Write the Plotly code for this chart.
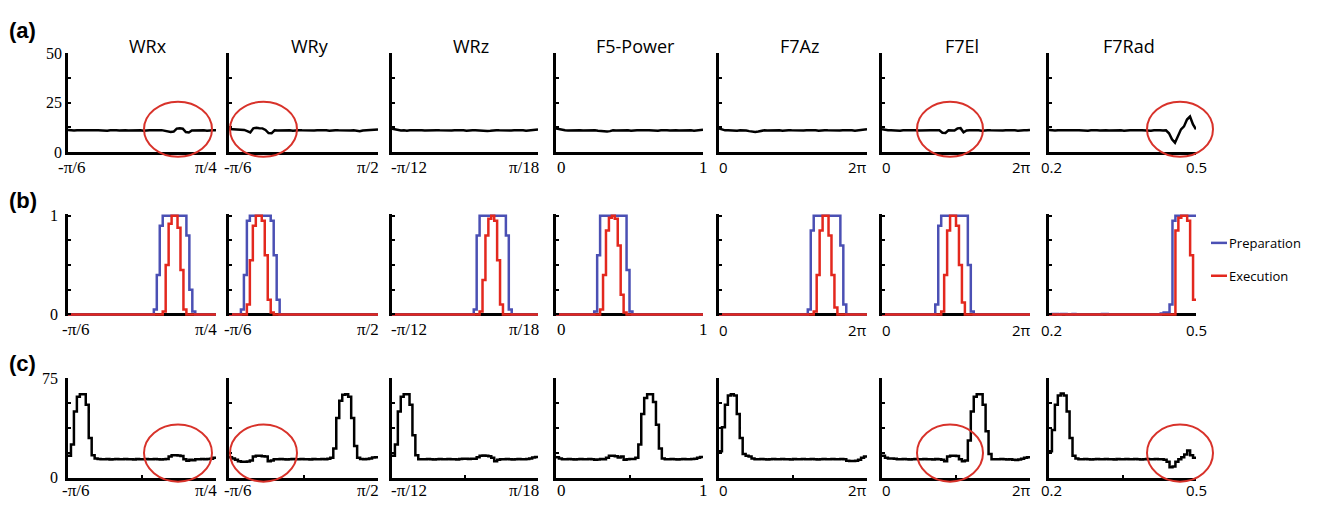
import numpy as np
import plotly.graph_objects as go

W, H = 1322, 509

# ---------------- data ----------------
panels = ["WRx", "WRy", "WRz", "F5-Power", "F7Az", "F7El", "F7Rad"]
x_min = [-np.pi / 6, -np.pi / 6, -np.pi / 12, 0.0, 0.0, 0.0, 0.2]
x_max = [np.pi / 4, np.pi / 2, np.pi / 18, 1.0, 2 * np.pi, 2 * np.pi, 0.5]
x_min_label = ["-π/6", "-π/6", "-π/12", "0", "0", "0", "0.2"]
x_max_label = ["π/4", "π/2", "π/18", "1", "2π", "2π", "0.5"]
row_labels = ["(a)", "(b)", "(c)"]
series_names = ["Preparation", "Execution"]

# row (a): firing rate, 50 bins per panel
a_wrx = [11.2, 11.0, 10.9, 11.1, 11.0, 10.8, 11.0, 11.1, 10.9, 11.0,
         11.1, 10.9, 11.0, 10.8, 11.0, 11.1, 11.0, 10.9, 11.1, 11.0,
         10.9, 11.0, 11.1, 10.9, 11.0, 10.8, 11.0, 11.1, 11.0, 10.9,
         11.0, 11.1, 10.8, 10.3, 10.2, 10.4, 11.9, 12.1, 11.8, 10.1,
         9.9, 10.9, 11.0, 11.1, 10.9, 11.0, 10.8, 11.0, 11.1, 11.0]
a_wry = [11.7, 11.6, 11.4, 11.5, 11.3, 11.2, 10.6, 9.9, 12.0, 12.3,
         12.1, 12.0, 11.2, 9.6, 9.5, 11.0, 10.9, 11.0, 11.1, 10.9,
         11.0, 10.8, 11.0, 11.1, 11.0, 10.9, 11.1, 11.0, 10.9, 11.0,
         11.1, 10.9, 11.0, 10.8, 11.0, 11.1, 11.0, 10.9, 11.1, 11.0,
         10.9, 11.0, 10.6, 10.5, 10.9, 11.0, 11.1, 10.9, 11.2, 11.4]
a_wrz = [11.8, 11.5, 11.0, 10.9, 11.0, 10.8, 11.0, 11.1, 10.9, 11.0,
         11.1, 10.9, 11.0, 10.8, 11.0, 11.1, 11.0, 10.9, 11.1, 11.0,
         10.9, 11.0, 11.1, 10.9, 11.0, 10.8, 11.0, 11.1, 11.0, 10.9,
         10.7, 10.6, 10.7, 10.8, 11.0, 11.1, 11.0, 10.9, 11.1, 11.0,
         10.9, 11.0, 11.1, 10.9, 11.0, 10.8, 11.0, 11.1, 11.2, 11.4]
a_f5 = [12.0, 11.6, 11.1, 11.0, 10.9, 11.0, 10.8, 11.0, 11.1, 10.9,
        11.0, 11.1, 10.9, 11.0, 10.8, 10.6, 10.4, 10.4, 10.6, 11.0,
        10.9, 11.0, 11.1, 10.9, 11.0, 10.8, 11.0, 11.1, 11.0, 10.9,
        11.0, 11.1, 10.9, 11.0, 10.8, 11.0, 11.1, 11.0, 10.9, 11.1,
        11.0, 10.9, 11.0, 11.1, 10.9, 11.0, 10.8, 11.0, 11.2, 11.3]
a_f7az = [11.9, 11.5, 11.0, 11.1, 10.9, 11.0, 10.8, 11.0, 11.1, 10.9,
          10.6, 10.3, 10.2, 10.4, 10.7, 11.0, 10.9, 11.0, 11.1, 10.9,
          11.0, 10.8, 11.0, 11.1, 11.0, 10.9, 11.1, 11.0, 10.9, 11.0,
          11.1, 10.9, 11.0, 10.8, 11.0, 11.1, 11.0, 10.9, 11.1, 11.0,
          10.9, 11.0, 11.1, 10.9, 11.0, 10.8, 11.0, 11.1, 11.3, 11.5]
a_f7el = [11.6, 11.3, 11.0, 11.1, 10.9, 11.0, 10.8, 11.0, 11.1, 10.9,
          11.0, 11.1, 10.9, 11.0, 10.8, 11.0, 11.1, 11.0, 10.9, 11.0,
          9.8, 9.7, 11.0, 11.1, 10.9, 12.0, 12.1, 10.0, 10.9, 11.0,
          11.1, 10.9, 11.0, 10.8, 11.0, 11.1, 11.0, 10.9, 11.1, 11.0,
          10.9, 11.0, 11.1, 10.9, 11.0, 10.8, 11.0, 11.1, 11.0, 11.2]
a_f7rad = [11.2, 11.0, 10.9, 11.1, 11.0, 10.8, 11.0, 11.1, 10.9, 11.0,
           11.1, 10.9, 11.0, 10.8, 11.0, 11.1, 11.0, 10.9, 11.1, 11.0,
           10.9, 11.0, 11.1, 10.9, 11.0, 10.8, 11.0, 11.1, 11.0, 10.9,
           11.0, 11.1, 10.9, 11.0, 10.8, 11.0, 11.1, 11.0, 10.9, 11.0,
           9.5, 6.5, 4.7, 8.5, 11.5, 13.0, 16.5, 18.0, 14.0, 11.5]

# row (b): normalised tuning, preparation (blue) and execution (red)
b_prep_wrx = [0, 0, 0, 0, 0, 0, 0, 0, 0, 0, 0, 0, 0, 0, 0, 0, 0, 0, 0, 0,
              0, 0, 0, 0, 0, 0, 0, 0, 0, 0.05, 0.4, 0.9, 1, 1, 1, 1, 1, 1, 1, 1,
              0.8, 0.25, 0.03, 0, 0, 0, 0, 0, 0, 0]
b_exec_wrx = [0, 0, 0, 0, 0, 0, 0, 0, 0, 0, 0, 0, 0, 0, 0, 0, 0, 0, 0, 0,
              0, 0, 0, 0, 0, 0, 0, 0, 0, 0, 0, 0, 0.03, 0.5, 0.92, 1, 1, 0.88, 0.45, 0.05,
              0, 0, 0, 0, 0, 0, 0, 0, 0, 0]
b_prep_wry = [0, 0, 0, 0, 0.05, 0.4, 0.95, 1, 1, 1, 1, 1, 1, 1, 0.95, 0.6, 0.15, 0, 0, 0,
              0, 0, 0, 0, 0, 0, 0, 0, 0, 0, 0, 0, 0, 0, 0, 0, 0, 0, 0, 0,
              0, 0, 0, 0, 0, 0, 0, 0, 0, 0]
b_exec_wry = [0, 0, 0, 0, 0, 0, 0.1, 0.55, 0.9, 1, 1, 0.95, 0.6, 0.15, 0.02, 0, 0, 0, 0, 0,
              0, 0, 0, 0, 0, 0, 0, 0, 0, 0, 0, 0, 0, 0, 0, 0, 0, 0, 0, 0,
              0, 0, 0, 0, 0, 0, 0, 0, 0, 0]
b_prep_wrz = [0, 0, 0, 0, 0, 0, 0, 0, 0, 0, 0, 0, 0, 0, 0, 0, 0, 0, 0, 0,
              0, 0, 0, 0, 0, 0, 0, 0, 0.05, 0.8, 1, 1, 1, 1, 1, 1, 1, 1, 1, 0.8,
              0.05, 0, 0, 0, 0, 0, 0, 0, 0, 0]
b_exec_wrz = [0, 0, 0, 0, 0, 0, 0, 0, 0, 0, 0, 0, 0, 0, 0, 0, 0, 0, 0, 0,
              0, 0, 0, 0, 0, 0, 0, 0, 0, 0, 0.03, 0.35, 0.8, 0.97, 1, 0.95, 0.55, 0.1, 0, 0,
              0, 0, 0, 0, 0, 0, 0, 0, 0, 0]
b_prep_f5 = [0, 0, 0, 0, 0, 0, 0, 0, 0, 0, 0, 0, 0, 0.03, 0.6, 1, 1, 1, 1, 1,
             1, 1, 1, 1, 0.45, 0.03, 0, 0, 0, 0, 0, 0, 0, 0, 0, 0, 0, 0, 0, 0,
             0, 0, 0, 0, 0, 0, 0, 0, 0, 0]
b_exec_f5 = [0, 0, 0, 0, 0, 0, 0, 0, 0, 0, 0, 0, 0, 0, 0, 0.05, 0.4, 0.85, 0.98, 1,
             0.97, 0.7, 0.2, 0.02, 0, 0, 0, 0, 0, 0, 0, 0, 0, 0, 0, 0, 0, 0, 0, 0,
             0, 0, 0, 0, 0, 0, 0, 0, 0, 0]
b_prep_f7az = [0, 0, 0, 0, 0, 0, 0, 0, 0, 0, 0, 0, 0, 0, 0, 0, 0, 0, 0, 0,
               0, 0, 0, 0, 0, 0, 0, 0, 0, 0, 0.05, 0.85, 1, 1, 1, 1, 1, 1, 1, 1,
               1, 0.7, 0.1, 0, 0, 0, 0, 0, 0, 0]
b_exec_f7az = [0, 0, 0, 0, 0, 0, 0, 0, 0, 0, 0, 0, 0, 0, 0, 0, 0, 0, 0, 0,
               0, 0, 0, 0, 0, 0, 0, 0, 0, 0, 0, 0, 0.03, 0.4, 0.85, 1, 1, 0.8, 0.4, 0.07,
               0, 0, 0, 0, 0, 0, 0, 0, 0, 0]
b_prep_f7el = [0, 0, 0, 0, 0, 0, 0, 0, 0, 0, 0, 0, 0, 0, 0, 0, 0, 0, 0.1, 0.9,
               1, 1, 1, 1, 1, 1, 1, 1, 1, 0.5, 0.03, 0, 0, 0, 0, 0, 0, 0, 0, 0,
               0, 0, 0, 0, 0, 0, 0, 0, 0, 0]
b_exec_f7el = [0, 0, 0, 0, 0, 0, 0, 0, 0, 0, 0, 0, 0, 0, 0, 0, 0, 0, 0, 0,
               0.03, 0.4, 0.85, 1, 1, 0.9, 0.5, 0.12, 0, 0, 0, 0, 0, 0, 0, 0, 0, 0, 0, 0,
               0, 0, 0, 0, 0, 0, 0, 0, 0, 0]
b_prep_f7rad = [0, 0.005, 0.005, 0, 0.005, 0.005, 0, 0, 0.005, 0, 0, 0, 0, 0, 0, 0, 0, 0, 0.005, 0.005,
                0, 0, 0, 0, 0, 0, 0, 0, 0, 0, 0, 0, 0, 0, 0, 0, 0, 0, 0.01, 0.02,
                0.02, 0.1, 0.95, 1, 1, 1, 1, 1, 1, 1]
b_exec_f7rad = [0, 0, 0, 0, 0, 0, 0, 0, 0, 0, 0, 0, 0, 0, 0, 0, 0, 0, 0, 0,
                0, 0, 0, 0, 0, 0, 0, 0, 0, 0, 0, 0, 0, 0, 0, 0, 0, 0, 0, 0,
                0, 0, 0, 0.85, 0.98, 1, 1, 0.95, 0.6, 0.15]

# row (c): firing rate, 50 bins per panel
c_wrx = [16.5, 25, 50, 61, 63, 63, 55, 30, 17, 14.5,
         14.2, 13.9, 14.0, 14.1, 13.8, 14.0, 14.2, 13.9, 14.0, 14.1,
         13.9, 14.0, 13.8, 14.1, 14.0, 13.9, 14.2, 14.0, 13.9, 14.1,
         14.0, 13.8, 14.0, 14.1, 16.0, 17.0, 17.0, 16.8, 16.4, 14.0,
         12.8, 13.6, 13.2, 14.0, 13.9, 14.1, 14.0, 14.2, 14.4, 15.0]
c_wry = [15.5, 14.5, 13.5, 12.5, 12.0, 12.0, 12.2, 13.0, 16.0, 16.5,
         16.5, 16.3, 16.0, 12.5, 13.0, 14.0, 13.9, 14.1, 14.0, 13.8,
         14.0, 14.2, 13.9, 14.0, 14.1, 13.9, 14.0, 13.8, 14.1, 14.0,
         13.9, 14.2, 14.0, 14.3, 15.0, 22, 45, 58, 62.5, 63,
         61, 45, 24, 15, 14.2, 14.0, 14.1, 14.5, 15.2, 15.5]
c_wrz = [16.5, 25, 50, 61, 63, 63, 55, 32, 17, 14,
         14.0, 13.9, 14.1, 14.0, 13.8, 14.0, 14.2, 13.9, 14.0, 14.1,
         13.9, 14.0, 13.8, 14.1, 14.3, 14.4, 14.2, 14.3, 14.4, 15.5,
         16.5, 16.7, 16.5, 16.3, 15.0, 12.5, 13.5, 14.0, 13.9, 14.1,
         14.0, 13.8, 14.0, 14.2, 13.9, 14.0, 14.1, 14.5, 15.2, 15.6]
c_f5 = [15.5, 14.5, 14.0, 13.9, 14.1, 14.0, 13.8, 14.0, 14.2, 13.9,
        14.0, 14.1, 13.9, 13.6, 13.8, 14.1, 14.0, 15.0, 16.5, 16.6,
        16.2, 15.2, 16.0, 13.5, 14.0, 14.1, 14.2, 15.0, 25, 48,
        60, 63, 63, 57, 40, 22, 14.5, 14.0, 13.9, 14.1,
        14.0, 13.8, 14.0, 14.2, 13.9, 14.0, 14.1, 14.4, 15.0, 15.6]
c_f7az = [20, 38, 55, 62, 63, 62, 48, 30, 18, 16.5,
          16.0, 14.5, 14.0, 13.9, 14.1, 14.0, 13.8, 14.0, 14.2, 13.9,
          14.0, 14.1, 13.9, 14.0, 13.8, 14.1, 14.0, 13.9, 14.2, 14.0,
          13.9, 14.1, 14.0, 13.8, 14.0, 14.1, 13.9, 14.0, 14.2, 13.9,
          14.0, 14.1, 13.9, 12.8, 12.6, 12.7, 12.9, 13.6, 15.0, 16.0]
c_f7el = [16.5, 15.0, 14.5, 14.5, 14.3, 14.0, 13.9, 14.1, 14.0, 13.8,
          14.0, 14.2, 13.9, 14.0, 14.1, 13.9, 14.0, 13.8, 14.1, 14.0,
          13.5, 12.5, 16.0, 16.5, 16.6, 16.4, 14.0, 12.5, 13.0, 28,
          50, 61, 63, 63, 55, 35, 18, 14, 14.0, 13.9,
          14.1, 14.0, 13.8, 14.0, 13.6, 13.4, 13.8, 14.4, 15.0, 15.5]
c_f7rad = [20, 36, 55, 62, 63.5, 62, 50, 30, 16.5, 14.5,
           14.0, 13.9, 14.1, 14.0, 13.8, 14.0, 14.2, 13.9, 14.0, 14.1,
           13.9, 14.0, 13.8, 14.1, 14.0, 13.9, 14.2, 14.0, 13.9, 14.1,
           14.0, 13.8, 14.0, 14.1, 13.9, 14.0, 14.2, 13.9, 14.0, 13.6,
           12.0, 8.0, 8.5, 12.0, 14.0, 15.5, 17.5, 20.5, 17.0, 15.0]

row_a = [a_wrx, a_wry, a_wrz, a_f5, a_f7az, a_f7el, a_f7rad]
row_b_prep = [b_prep_wrx, b_prep_wry, b_prep_wrz, b_prep_f5, b_prep_f7az, b_prep_f7el, b_prep_f7rad]
row_b_exec = [b_exec_wrx, b_exec_wry, b_exec_wrz, b_exec_f5, b_exec_f7az, b_exec_f7el, b_exec_f7rad]
row_c = [c_wrx, c_wry, c_wrz, c_f5, c_f7az, c_f7el, c_f7rad]

# highlighted (circled) panels in rows a and c
circled = [0, 1, 5, 6]

# ---------------- layout geometry (pixels) ----------------
col_l = [68, 229, 392, 556, 719, 882, 1049]
col_r = [216, 378, 538, 703, 867, 1030, 1196]
# row: (pixel of range bottom, pixel of range top, range)
rows_geo = [
    (149, 47, [0, 50]),
    (319.04, 212.96, [-0.02, 1.02]),
    (486, 383, [0, 75]),
]
ytick_vals = [[0, 12.5, 25, 37.5, 50], [0, 0.25, 0.5, 0.75, 1], [0, 18.75, 37.5, 56.25, 75]]
ytick_text = [["0", "", "25", "", "50"], ["0", "", "", "", "1"], ["0", "", "", "", "75"]]
ytick_standoff = [None, 4, 4]
xlabel_y = [165, 333, 499]
row_label_y = [23, 199, 368]
# label alignment: (xanchor, xshift) for left and right labels
left_align = [("left", -12), ("left", -7), ("left", -3), ("left", -1), ("left", -2), ("left", -2), ("center", 2)]
first_col_shift = [-12, -8, -8]
right_align = [("right", 3), ("right", 3), ("right", 3), ("center", 0), ("right", 2), ("right", 3), ("center", 0)]
serif_label = [True, True, True, True, False, False, False]
circle_px = {0: (144, 212), 1: (230, 297), 5: (917, 983), 6: (1147, 1213)}
circle_py = {0: (154, 97), 2: (490, 431)}

BLUE = "#4b50b4"
RED = "#e3281e"
CIRCLE = "#d8322a"
SERIF = "Liberation Serif, Times New Roman, serif"
SANS = "Open Sans, Noto Sans, sans-serif"

fig = go.Figure()
layout = {}
annotations = []
shapes = []

N = 50
for r in range(3):
    pb, pt, rng = rows_geo[r]
    for c in range(7):
        k = r * 7 + c + 1
        xs = "" if k == 1 else str(k)
        xa, ya = "x" + xs, "y" + xs
        xmin, xmax = x_min[c], x_max[c]
        edges = np.linspace(xmin, xmax, N + 1)
        if r == 0:
            vals = row_a[c]
            fig.add_trace(go.Scatter(x=np.linspace(xmin, xmax, N), y=vals, mode="lines",
                                     line=dict(color="black", width=2.5),
                                     xaxis=xa, yaxis=ya, showlegend=False, hoverinfo="skip"))
        elif r == 1:
            for vals, col, name in [(row_b_prep[c], BLUE, series_names[0]),
                                    (row_b_exec[c], RED, series_names[1])]:
                fig.add_trace(go.Scatter(x=edges, y=list(vals) + [vals[-1]], mode="lines",
                                         line=dict(color=col, width=2.5, shape="hv"),
                                         name=name, xaxis=xa, yaxis=ya, showlegend=False))
        else:
            vals = row_c[c]
            fig.add_trace(go.Scatter(x=edges, y=list(vals) + [vals[-1]], mode="lines",
                                     line=dict(color="black", width=2.5, shape="hv"),
                                     xaxis=xa, yaxis=ya, showlegend=False, hoverinfo="skip"))

        if r == 2:
            xt = [xmin, (xmin + xmax) / 2, xmax]
        else:
            xt = [xmin, xmax]
        layout["xaxis" + xs] = dict(
            domain=[col_l[c] / W, col_r[c] / W], anchor=ya, range=[xmin, xmax],
            showline=(r != 1), linecolor="black", linewidth=2.5,
            ticks="" if r == 1 else "inside", ticklen=3, tickwidth=2, tickcolor="black",
            tickvals=xt, showticklabels=False, showgrid=False, zeroline=False, fixedrange=True)
        yax = dict(
            domain=[1 - pb / H, 1 - pt / H], anchor=xa, range=rng,
            showline=True, linecolor="black", linewidth=2.5,
            ticks="inside", ticklen=3, tickwidth=2, tickcolor="black",
            tickvals=ytick_vals[r],
            ticktext=ytick_text[r] if c == 0 else [""] * len(ytick_vals[r]),
            tickfont=dict(family=SERIF, size=16, color="black"),
            showgrid=False, zeroline=(r == 1), zerolinecolor="black", zerolinewidth=2.5,
            fixedrange=True)
        if c == 0 and ytick_standoff[r] is not None:
            yax["ticklabelstandoff"] = ytick_standoff[r]
        layout["yaxis" + xs] = yax

        # x end labels
        lf = SERIF if serif_label[c] else SANS
        lsz = 17 if serif_label[c] else 15
        lshift = first_col_shift[r] if c == 0 else left_align[c][1]
        annotations.append(dict(x=xmin, xref=xa, y=1 - xlabel_y[r] / H, yref="paper",
                                text=x_min_label[c], showarrow=False,
                                xanchor=left_align[c][0], xshift=lshift,
                                yanchor="middle", font=dict(family=lf, size=lsz, color="black")))
        annotations.append(dict(x=xmax, xref=xa, y=1 - xlabel_y[r] / H, yref="paper",
                                text=x_max_label[c], showarrow=False,
                                xanchor=right_align[c][0], xshift=right_align[c][1],
                                yanchor="middle", font=dict(family=lf, size=lsz, color="black")))

        # circles
        if r != 1 and c in circled:
            w = col_r[c] - col_l[c]
            px0, px1 = circle_px[c]
            py0, py1 = circle_py[r]
            fx0, fx1 = (px0 - col_l[c]) / w, (px1 - col_l[c]) / w
            fy0, fy1 = (pb - py0) / (pb - pt), (pb - py1) / (pb - pt)
            shapes.append(dict(type="circle", xref=xa + " domain", yref=ya + " domain",
                               x0=fx0, x1=fx1, y0=fy0, y1=fy1,
                               line=dict(color=CIRCLE, width=2)))

# panel titles
for c in range(7):
    cx = (col_l[c] + col_r[c]) / 2 + 6
    annotations.append(dict(x=cx / W, y=1 - 39 / H, xref="paper", yref="paper",
                            text=panels[c], showarrow=False, xanchor="center", yanchor="middle",
                            font=dict(family=SANS, size=18, color="black")))

# row labels
for r in range(3):
    annotations.append(dict(x=7 / W, y=1 - row_label_y[r] / H, xref="paper", yref="paper",
                            text="<b>" + row_labels[r] + "</b>", showarrow=False,
                            xanchor="left", yanchor="middle",
                            font=dict(family="Liberation Sans, Arial, sans-serif", size=22, color="black")))

# legend (row b)
for name, col, ly in [(series_names[0], BLUE, 243), (series_names[1], RED, 277)]:
    shapes.append(dict(type="line", xref="paper", yref="paper",
                       x0=1211 / W, x1=1227 / W, y0=1 - ly / H, y1=1 - ly / H,
                       line=dict(color=col, width=2.5)))
    annotations.append(dict(x=1227 / W, y=1 - ly / H, xref="paper", yref="paper",
                            text=name, showarrow=False, xanchor="left", yanchor="middle",
                            font=dict(family=SANS, size=13, color="black")))

fig.update_layout(
    width=W, height=H, margin=dict(l=0, r=0, t=0, b=0),
    paper_bgcolor="white", plot_bgcolor="white", showlegend=False,
    annotations=annotations, shapes=shapes, **layout)

fig.write_html("out.html", config={"displayModeBar": False},
               post_script="document.body.style.margin='0';document.body.style.overflow='hidden';")
